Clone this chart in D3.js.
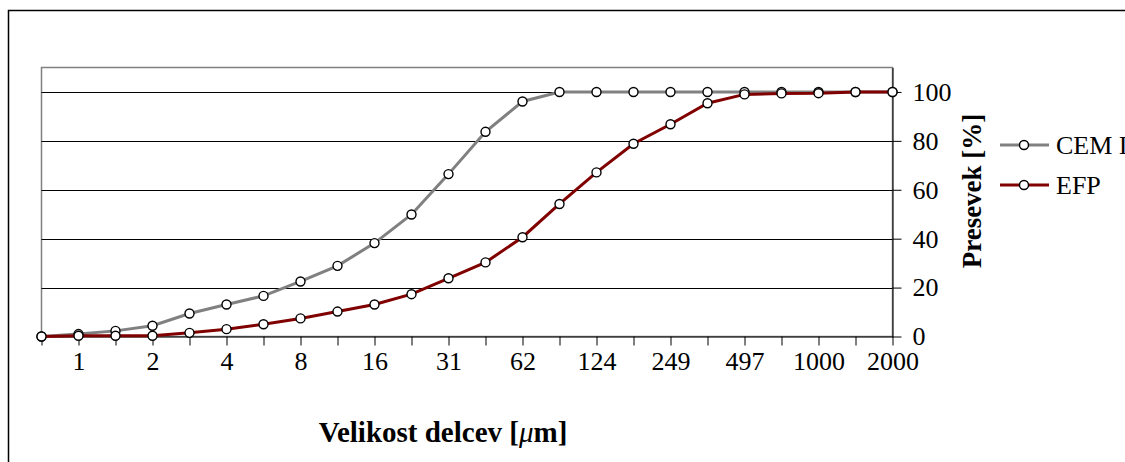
<!DOCTYPE html>
<html>
<head>
<meta charset="UTF-8">
<title>Presevek</title>
<script src="https://d3js.org/d3.v7.min.js"></script>
<style>
    html, body { margin: 0; padding: 0; background: #fff; overflow: hidden; }
    svg text { font-family: "Liberation Serif", "Times New Roman", serif; fill: #000; }
    .axis path, .axis line { stroke: #000; stroke-width: 1px; }
    .axis text { font-size: 26px; }
</style>
</head>
<body>
<div id="chart"></div>
<script>
    // velikost delcev (um), one per measured point
    const sizes = ["0.7", "1", "1.4", "2", "2.8", "4", "5.6", "8", "11", "16", "22", "31",
                   "44", "62", "88", "124", "176", "249", "352", "497", "707", "1000", "1414", "2000"];
    const xTickLabels = ["1", "2", "4", "8", "16", "31", "62", "124", "249", "497", "1000", "2000"];
    const yTicks = [0, 20, 40, 60, 80, 100];

    const cemI = [0, 1, 2.3, 4.4, 9.4, 13.1, 16.6, 22.5, 28.9, 38.2, 49.9, 66.4,
                  83.7, 96.1, 100, 100, 100, 100, 100, 100, 100, 100, 100, 100];
    const efp = [0, 0.3, 0.3, 0.3, 1.5, 3.0, 5.0, 7.4, 10.2, 13.1, 17.3, 23.8,
                 30.3, 40.6, 54.2, 67.1, 78.8, 86.8, 95.4, 99, 99.4, 99.5, 100, 100];

    const series = [
        {name: "CEM I", values: cemI, color: "#808080"},
        {name: "EFP", values: efp, color: "#800000"}
    ];

    const width = 1125, height = 462;
    const plot = {left: 41.5, right: 892.5, top: 67.5, bottom: 336.5};

    const svg = d3.select("#chart").append("svg")
        .attr("width", width)
        .attr("height", height);

    // outer chart frame (runs off the right and bottom edge)
    svg.append("rect")
        .attr("x", 8.5).attr("y", 10.5)
        .attr("width", 1300).attr("height", 600)
        .attr("fill", "none").attr("stroke", "#000").attr("stroke-width", 1.5);

    const x = d3.scalePoint().domain(sizes).range([plot.left, plot.right]);
    const y = d3.scaleLinear().domain([0, 110]).range([plot.bottom, plot.top]);

    // plot area border
    svg.append("rect")
        .attr("x", plot.left).attr("y", plot.top)
        .attr("width", plot.right - plot.left).attr("height", plot.bottom - plot.top)
        .attr("fill", "none").attr("stroke", "#808080").attr("stroke-width", 1.5);

    // gridlines
    svg.append("g")
        .selectAll("line")
        .data(yTicks.filter(t => t > 0))
        .enter().append("line")
        .attr("x1", plot.left).attr("x2", plot.right)
        .attr("y1", d => Math.round(y(d)) + 0.5).attr("y2", d => Math.round(y(d)) + 0.5)
        .attr("stroke", "#000").attr("stroke-width", 1);

    svg.append("g")
        .attr("class", "axis")
        .attr("transform", `translate(0,${plot.bottom})`)
        .call(d3.axisBottom(x).tickSize(9).tickPadding(6).tickSizeOuter(0)
            .tickFormat(d => xTickLabels.includes(d) ? d : ""));

    svg.append("g")
        .attr("class", "axis")
        .attr("transform", `translate(${plot.right},0)`)
        .call(d3.axisRight(y).tickValues(yTicks).tickSize(9).tickPadding(11).tickSizeOuter(0));

    const line = d3.line()
        .x((d, i) => x(sizes[i]))
        .y(d => y(d));

    series.forEach(s => {
        svg.append("path")
            .datum(s.values)
            .attr("fill", "none")
            .attr("stroke", s.color)
            .attr("stroke-width", 3)
            .attr("d", line);

        svg.append("g")
            .selectAll("circle")
            .data(s.values)
            .enter().append("circle")
            .attr("cx", (d, i) => x(sizes[i]))
            .attr("cy", d => y(d))
            .attr("r", 4.5)
            .attr("fill", "#fff")
            .attr("stroke", "#000")
            .attr("stroke-width", 1.4);
    });

    // axis titles
    const xt = svg.append("text")
        .attr("x", 443).attr("y", 442)
        .attr("text-anchor", "middle")
        .style("font-size", "29px").style("font-weight", "bold");
    xt.append("tspan").text("Velikost delcev [");
    xt.append("tspan").style("font-style", "italic").style("font-weight", "normal").text("\u03bc");
    xt.append("tspan").text("m]");

    svg.append("text")
        .attr("transform", "translate(981,191) rotate(-90)")
        .attr("text-anchor", "middle")
        .style("font-size", "27px").style("font-weight", "bold")
        .text("Presevek [%]");

    // legend
    const legend = svg.append("g");
    series.forEach((s, i) => {
        const ly = 145 + i * 40;
        legend.append("line")
            .attr("x1", 1000).attr("x2", 1049)
            .attr("y1", ly).attr("y2", ly)
            .attr("stroke", s.color).attr("stroke-width", 3);
        legend.append("circle")
            .attr("cx", 1024).attr("cy", ly).attr("r", 4.5)
            .attr("fill", "#fff").attr("stroke", "#000").attr("stroke-width", 1.4);
        legend.append("text")
            .attr("x", 1056).attr("y", ly)
            .attr("dy", "0.35em")
            .style("font-size", "26px")
            .text(s.name);
    });
</script>
</body>
</html>
